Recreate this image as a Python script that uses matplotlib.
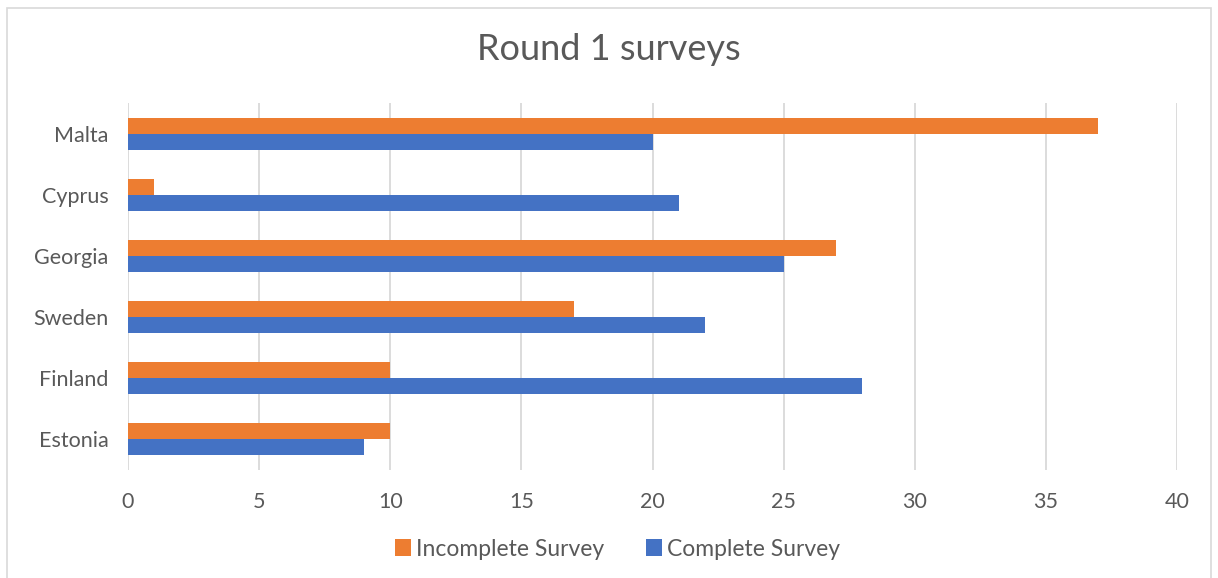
import numpy as np
import matplotlib.pyplot as plt
from matplotlib.patches import Rectangle

countries = ['Estonia', 'Finland', 'Sweden', 'Georgia', 'Cyprus', 'Malta']
complete = [9, 28, 22, 25, 21, 20]
incomplete = [10, 10, 17, 27, 1, 37]
xticks = [0, 5, 10, 15, 20, 25, 30, 35, 40]

blue = '#4472C4'
orange = '#ED7D31'
grey = '#595959'

plt.rcParams['font.family'] = ['Lato', 'DejaVu Sans']

fig = plt.figure(figsize=(12.18, 5.78), dpi=100)
fig.patches.append(Rectangle((7 / 1218, -0.01), 1204 / 1218, 1 - 8 / 578 + 0.01,
                             transform=fig.transFigure, fill=False,
                             edgecolor='#D9D9D9', linewidth=1.2))

ax = fig.add_axes([128 / 1218, 1 - 470 / 578, 1049 / 1218, 367 / 578])
y = np.arange(len(countries))
h = 0.262
ax.barh(y - h / 2, complete, height=h, color=blue, label='Complete Survey', zorder=3)
ax.barh(y + h / 2, incomplete, height=h, color=orange, label='Incomplete Survey', zorder=3)

ax.set_xlim(0, 40)
ax.set_ylim(-0.5, len(countries) - 0.5)
ax.set_xticks(xticks)
ax.set_yticks(y)
ax.set_yticklabels(countries)
ax.tick_params(axis='both', length=0, labelsize=15.5, labelcolor=grey)
ax.tick_params(axis='y', pad=14)
ax.tick_params(axis='x', pad=16)
ax.grid(axis='x', color='#D9D9D9', linewidth=1.3, zorder=0)
for s in ax.spines.values():
    s.set_visible(False)

fig.text(0.5, 1 - 49 / 578, 'Round 1 surveys', ha='center', va='center',
         fontsize=26, color=grey)

handles, labels = ax.get_legend_handles_labels()
fig.legend(handles[::-1], labels[::-1], loc='center', bbox_to_anchor=(0.507, 1 - 549 / 578),
           ncol=2, frameon=False, fontsize=16.5, labelcolor=grey,
           handlelength=0.7, handleheight=0.7, handletextpad=0.25, columnspacing=1.8)

fig.savefig('out.png', dpi=100)
